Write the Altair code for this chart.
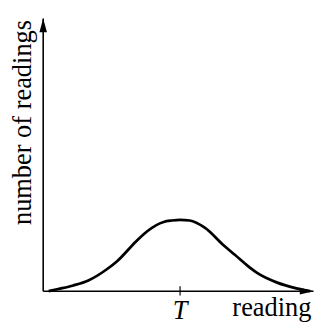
import altair as alt
import pandas as pd

# Curve (reading in units where T = 5, count relative to peak)
reading_x = [0.2, 0.55, 1.1, 1.65, 2.3, 2.7, 3.4, 3.8, 4.4, 4.7, 5.0, 5.35, 5.9, 6.6, 7.0, 7.55, 7.8, 8.55, 9.25, 9.75]
counts = [0.0, 0.03, 0.08, 0.15, 0.30, 0.42, 0.70, 0.84, 0.97, 0.99, 1.0, 0.99, 0.89, 0.64, 0.51, 0.33, 0.26, 0.12, 0.04, 0.0]

T_value = 5.0
T_label = "T"
x_title = "reading"
y_title = "number of readings"
x_axis_end = 9.875
y_axis_top = 3.82

W, H = 313, 319
x_scale = alt.Scale(domain=[-36 / 28, (W - 36) / 28], nice=False, zero=False)
y_scale = alt.Scale(domain=[(286 - H) / 73, 286 / 73], nice=False, zero=False)
FONT = "Liberation Serif"

curve = pd.DataFrame({"reading": reading_x, "count": counts})
axes_df = pd.DataFrame({"x0": [0.0], "y0": [0.0], "xe": [x_axis_end], "yt": [y_axis_top],
                        "t": [T_value], "tlo": [-0.06], "thi": [0.07]})

X = lambda f: alt.X(f, scale=x_scale, axis=None)
Y = lambda f: alt.Y(f, scale=y_scale, axis=None)

line = alt.Chart(curve).mark_line(color="black", strokeWidth=2.8, interpolate="monotone").encode(
    x=X("reading:Q"), y=Y("count:Q"))

yaxis = alt.Chart(axes_df).mark_rule(color="black", strokeWidth=1.6).encode(
    x=X("x0:Q"), y=Y("y0:Q"), y2="yt:Q")
xaxis = alt.Chart(axes_df).mark_rule(color="black", strokeWidth=1.6).encode(
    x=X("x0:Q"), x2="xe:Q", y=Y("y0:Q"))
tick = alt.Chart(axes_df).mark_rule(color="black", strokeWidth=1.2).encode(
    x=X("t:Q"), y=Y("tlo:Q"), y2="thi:Q")

yarrow = alt.Chart(axes_df).mark_point(
    shape="M0,-1L0.55,1L-0.55,1Z", size=196, filled=True, color="black", opacity=1, yOffset=7
).encode(x=X("x0:Q"), y=Y("yt:Q"))
xarrow = alt.Chart(axes_df).mark_point(
    shape="M1,0L-1,-0.5L-1,0.5Z", size=196, filled=True, color="black", opacity=1, xOffset=-7
).encode(x=X("xe:Q"), y=Y("y0:Q"))

t_text = alt.Chart(pd.DataFrame({"x": [T_value], "y": [0.0], "label": [T_label]})).mark_text(
    font=FONT, fontSize=27, fontStyle="italic", align="center", baseline="alphabetic", dy=28, color="black"
).encode(x=X("x:Q"), y=Y("y:Q"), text="label:N")

x_text = alt.Chart(pd.DataFrame({"x": [9.8], "y": [0.0], "label": [x_title]})).mark_text(
    font=FONT, fontSize=27, align="right", baseline="alphabetic", dy=25, color="black"
).encode(x=X("x:Q"), y=Y("y:Q"), text="label:N")

y_text = alt.Chart(pd.DataFrame({"x": [-0.43], "y": [2.363], "label": [y_title]})).mark_text(
    font=FONT, fontSize=27, angle=270, align="center", baseline="alphabetic", color="black"
).encode(x=X("x:Q"), y=Y("y:Q"), text="label:N")

chart = alt.layer(yaxis, xaxis, tick, line, yarrow, xarrow, t_text, x_text, y_text).properties(
    width=W, height=H, autosize=alt.AutoSizeParams(type="none"), padding=0, background="white"
).configure_view(stroke=None)

chart.save("out.html", embed_options={"renderer": "svg", "actions": False})
